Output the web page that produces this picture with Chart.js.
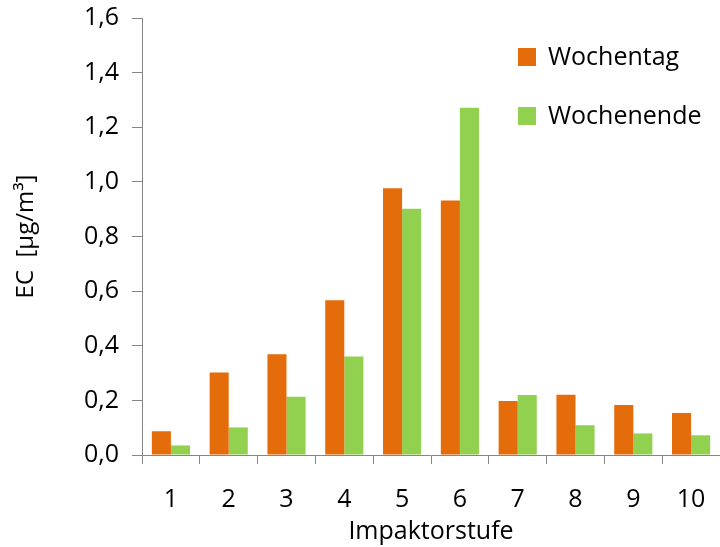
<!DOCTYPE html>
<html>
<head>
<meta charset="utf-8">
<script src="https://cdn.jsdelivr.net/npm/chart.js@4"></script>
<style>
  html, body { margin: 0; padding: 0; background: #fff; }
  #wrap { width: 720px; height: 547px; }
</style>
</head>
<body>
<div id="wrap"><canvas id="chart" width="720" height="547"></canvas></div>
<script>
const stufen = ['1', '2', '3', '4', '5', '6', '7', '8', '9', '10'];
const wochentag = [0.087, 0.302, 0.369, 0.567, 0.977, 0.932, 0.198, 0.221, 0.183, 0.154];
const wochenende = [0.035, 0.101, 0.213, 0.361, 0.902, 1.271, 0.22, 0.109, 0.079, 0.072];
const serienNamen = ['Wochentag', 'Wochenende'];
const farben = ['#E46C0A', '#92D050'];

const schrift = "'Open Sans', 'Liberation Sans', sans-serif";

// legend drawn inside the plot, top right, one entry per line
const legendePlugin = {
  id: 'legende',
  afterDraw(chart) {
    const ctx = chart.ctx;
    ctx.save();
    ctx.font = '25px ' + schrift;
    ctx.textBaseline = 'middle';
    chart.data.datasets.forEach((ds, i) => {
      const y = 57 + i * 59;
      ctx.fillStyle = ds.backgroundColor;
      ctx.fillRect(518, y - 9, 18, 18);
      ctx.fillStyle = '#000';
      ctx.fillText(ds.label, 548, y + 1);
    });
    ctx.restore();
  }
};

const ctx = document.getElementById('chart').getContext('2d');
new Chart(ctx, {
  type: 'bar',
  data: {
    labels: stufen,
    datasets: [
      { label: serienNamen[0], data: wochentag, backgroundColor: farben[0] },
      { label: serienNamen[1], data: wochenende, backgroundColor: farben[1] }
    ]
  },
  options: {
    responsive: false,
    animation: false,
    layout: { padding: { top: 18, right: 0, left: 0, bottom: 0 } },
    datasets: { bar: { categoryPercentage: 0.66, barPercentage: 1.0 } },
    plugins: {
      legend: { display: false },
      tooltip: { enabled: false }
    },
    scales: {
      x: {
        afterFit: scale => { scale.height = 92; scale.paddingRight = 0; scale.paddingLeft = 0; },
        grid: { display: true, drawOnChartArea: false, drawTicks: true, tickLength: 9, color: '#868686', offset: true },
        border: { display: true, color: '#868686', width: 1 },
        ticks: { color: '#000', font: { family: schrift, size: 25 }, padding: 21 },
        title: { display: true, text: 'Impaktorstufe', color: '#000', font: { family: schrift, size: 25 }, padding: { top: 0, bottom: 0 } }
      },
      y: {
        min: 0,
        max: 1.6,
        afterFit: scale => { scale.width = 142; scale.paddingTop = 0; scale.paddingBottom = 0; },
        grid: { display: true, drawOnChartArea: false, drawTicks: true, tickLength: 10, color: '#868686' },
        border: { display: true, color: '#868686', width: 1 },
        ticks: {
          stepSize: 0.2,
          color: '#000',
          font: { family: schrift, size: 25 },
          padding: 13,
          callback: v => v.toFixed(1).replace('.', ',')
        },
        title: { display: true, text: 'EC  [µg/m³]', color: '#000', font: { family: schrift, size: 24 }, padding: { top: 12, bottom: 0 } }
      }
    }
  },
  plugins: [legendePlugin]
});
</script>
</body>
</html>
